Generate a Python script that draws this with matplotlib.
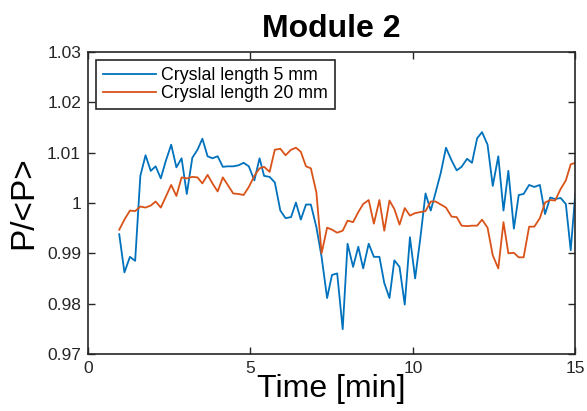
import numpy as np
import matplotlib
matplotlib.use("Agg")
import matplotlib.pyplot as plt

plt.rcParams['font.family'] = ['Liberation Sans', 'DejaVu Sans']

# Time axis [min]
time = [0.96, 1.12, 1.29, 1.45, 1.61, 1.77, 1.93, 2.08, 2.24, 2.39, 2.56, 2.72, 2.88,
        3.04, 3.21, 3.37, 3.52, 3.68, 3.83, 3.99, 4.15, 4.30, 4.47, 4.63, 4.79, 4.95, 5.12, 5.28, 5.42,
        5.59, 5.75, 5.92, 6.08, 6.25, 6.40, 6.55, 6.71, 6.86, 7.03, 7.19, 7.36, 7.51, 7.67, 7.84,
        7.99, 8.16, 8.32, 8.47, 8.64, 8.80, 8.97, 9.12, 9.28, 9.43, 9.59, 9.75, 9.91, 10.07, 10.23,
        10.39, 10.55, 10.70, 10.86, 11.02, 11.19, 11.35, 11.50, 11.67, 11.82, 11.98, 12.13, 12.30,
        12.46, 12.63, 12.79,
        12.94, 13.11, 13.26, 13.41, 13.58, 13.74, 13.91, 14.07, 14.23, 14.38, 14.55, 14.71, 14.86, 15.00]

# P/<P> for 5 mm crystal
p_5mm = [0.9938, 0.9862, 0.9893, 0.9885, 1.0054, 1.0095, 1.0064, 1.0073, 1.0049, 1.0083, 1.0116, 1.0071, 1.0089,
         1.0018, 1.0090, 1.0106, 1.0128, 1.0093, 1.0089, 1.0093, 1.0072, 1.0073, 1.0073, 1.0075, 1.0080, 1.0073,
         1.0045, 1.0089, 1.0054,
         1.0052, 1.0041, 0.9985, 0.9970, 0.9972, 1.0001, 0.9967, 0.9997, 0.9997, 0.9952, 0.9893, 0.9811, 0.9857,
         0.9860, 0.9749,
         0.9919, 0.9873, 0.9913, 0.9870, 0.9919, 0.9893, 0.9893, 0.9841, 0.9811, 0.9886, 0.9873, 0.9798, 0.9932,
         0.9850, 0.9930,
         1.0019, 0.9985, 1.0021, 1.0060, 1.0110, 1.0085, 1.0065, 1.0072, 1.0088, 1.0080, 1.0129, 1.0141, 1.0116,
         1.0034, 1.0093, 0.9985,
         1.0064, 0.9949, 1.0016, 1.0018, 1.0036, 1.0032, 1.0036, 0.9978, 1.0011, 1.0008, 1.0010, 0.9998, 0.9906,
         1.0018]

# P/<P> for 20 mm crystal
p_20mm = [0.9947, 0.9967, 0.9985, 0.9984, 0.9993, 0.9991, 0.9995, 1.0003, 0.9991, 1.0012, 1.0036, 1.0014, 1.0051,
          1.0049, 1.0052, 1.0051, 1.0039, 1.0056, 1.0039, 1.0023, 1.0051, 1.0036, 1.0019, 1.0018, 1.0016, 1.0032,
          1.0054, 1.0069, 1.0072,
          1.0062, 1.0106, 1.0108, 1.0095, 1.0106, 1.0110, 1.0102, 1.0073, 1.0069, 1.0021, 0.9900, 0.9951, 0.9947,
          0.9941, 0.9945,
          0.9965, 0.9962, 0.9982, 0.9998, 1.0006, 0.9959, 1.0006, 0.9945, 1.0005, 0.9988, 0.9957, 0.9990, 0.9975,
          0.9980, 0.9982,
          0.9984, 1.0003, 1.0003, 0.9997, 0.9991, 0.9973, 0.9972, 0.9955, 0.9954, 0.9955, 0.9955, 0.9967, 0.9951,
          0.9896, 0.9870, 0.9962,
          0.9900, 0.9901, 0.9892, 0.9892, 0.9953, 0.9953, 0.9970, 1.0001, 1.0006, 1.0005, 1.0028, 1.0045, 1.0077,
          1.0080]

x_ticks = [0, 5, 10, 15]
y_ticks = [0.97, 0.98, 0.99, 1.00, 1.01, 1.02, 1.03]
y_ticklabels = ['0.97', '0.98', '0.99', '1', '1.01', '1.02', '1.03']

fig = plt.figure(figsize=(5.87, 4.11), dpi=100)
ax = fig.add_axes([0.150, 0.139, 0.830, 0.734])

ax.plot(time, p_5mm, color='#0072BD', lw=1.3, label='Cryslal length 5 mm')
ax.plot(time, p_20mm, color='#D95319', lw=1.3, label='Cryslal length 20 mm')

ax.set_xlim(0, 15)
ax.set_ylim(0.97, 1.03)
ax.set_xticks(x_ticks)
ax.set_yticks(y_ticks)
ax.set_yticklabels(y_ticklabels)
ax.tick_params(direction='in', length=5, width=1, top=True, right=True, pad=5,
               labelsize=12.5, colors='#262626', labelcolor='#262626')
for s in ax.spines.values():
    s.set_linewidth(1.2)
    s.set_color('#262626')

ax.set_title('Module 2', fontsize=23, fontweight='bold', pad=11)
ax.set_xlabel('Time [min]', fontsize=23, labelpad=-1)
ax.set_ylabel('P/<P>', fontsize=24, labelpad=6)

leg = ax.legend(loc='upper left', fontsize=12.8, handlelength=3.0, fancybox=False,
                edgecolor='#262626', framealpha=1, borderaxespad=0.45,
                borderpad=0.4, labelspacing=0.05, handletextpad=0.25)
leg.get_frame().set_linewidth(1.2)

plt.savefig('out.png', dpi=100)
